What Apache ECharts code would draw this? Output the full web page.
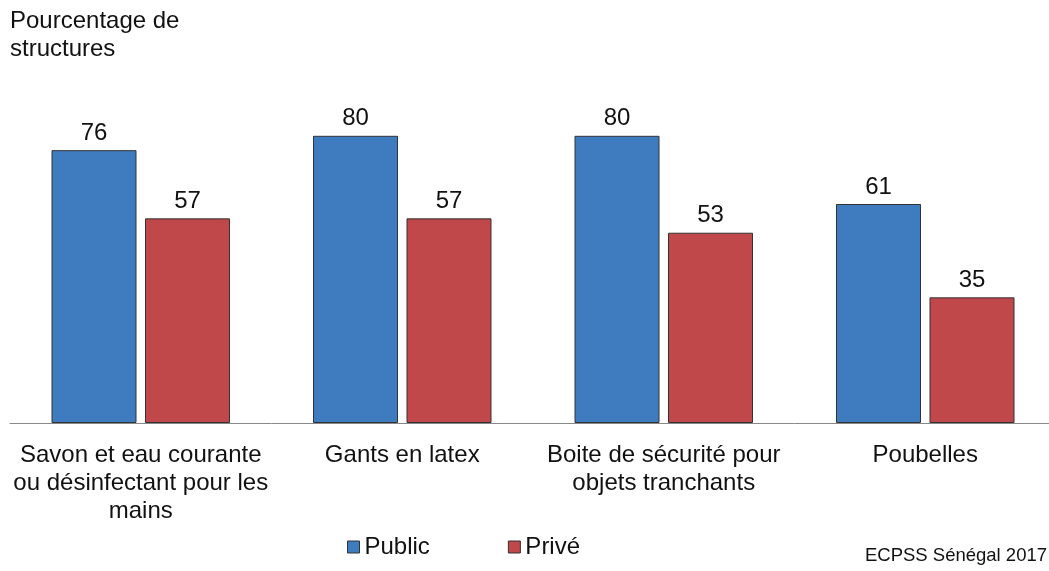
<!DOCTYPE html>
<html>
<head>
<meta charset="utf-8">
<script src="https://cdn.jsdelivr.net/npm/echarts@6/dist/echarts.min.js"></script>
<style>
html,body{margin:0;padding:0;background:#fff;overflow:hidden;width:1049px;height:571px;}
#chart{width:1056px;height:571px;}
</style>
</head>
<body>
<div id="chart"></div>
<script>
const categories = [
  "Savon et eau courante\nou désinfectant pour les\nmains",
  "Gants en latex",
  "Boite de sécurité pour\nobjets tranchants",
  "Poubelles"
];
const publicValues = [76, 80, 80, 61];
const priveValues = [57, 57, 53, 35];
const seriesNames = ["Public", "Privé"];

const FONT = '"Liberation Sans", Arial, sans-serif';
const chart = echarts.init(document.getElementById('chart'), null, {renderer: 'canvas'});
const labelStyle = {show: true, position: 'top', distance: 5, fontSize: 24, color: '#111', fontFamily: FONT};
chart.setOption({
  animation: false,
  textStyle: {fontFamily: FONT},
  title: [
    {text: "Pourcentage de\nstructures", left: 10, top: 7, padding: 0,
     textStyle: {fontSize: 24, fontWeight: 'normal', color: '#111', fontFamily: FONT, lineHeight: 28}},
    {text: "ECPSS Sénégal 2017", right: 9, top: 546, padding: 0,
     textStyle: {fontSize: 18.5, fontWeight: 'normal', color: '#111', fontFamily: FONT}}
  ],
  legend: {
    data: seriesNames,
    left: 347, top: 535, padding: 0,
    itemWidth: 12, itemHeight: 12, itemGap: 78,
    icon: 'rect',
    textStyle: {fontSize: 24, color: '#111', fontFamily: FONT, padding: [0, 0, 0, 0]},
    itemStyle: {borderColor: '#333', borderWidth: 1}
  },
  grid: {left: 10, right: 0, top: 64, bottom: 148, containLabel: false},
  xAxis: {
    type: 'category',
    data: categories,
    axisLine: {show: true, lineStyle: {color: '#888', width: 1}},
    axisTick: {show: false},
    axisLabel: {fontSize: 24, color: '#111', fontFamily: FONT, lineHeight: 28, margin: 18, interval: 0}
  },
  yAxis: {
    type: 'value', min: 0, max: 100,
    show: false,
    splitLine: {show: false}
  },
  series: [
    {name: seriesNames[0], type: 'bar', data: publicValues, barWidth: 85, barGap: '10%',
     itemStyle: {color: '#3F7CBF', borderColor: '#333', borderWidth: 1}, label: labelStyle},
    {name: seriesNames[1], type: 'bar', data: priveValues, barWidth: 85,
     itemStyle: {color: '#C0474A', borderColor: '#333', borderWidth: 1}, label: labelStyle}
  ]
});
</script>
</body>
</html>
